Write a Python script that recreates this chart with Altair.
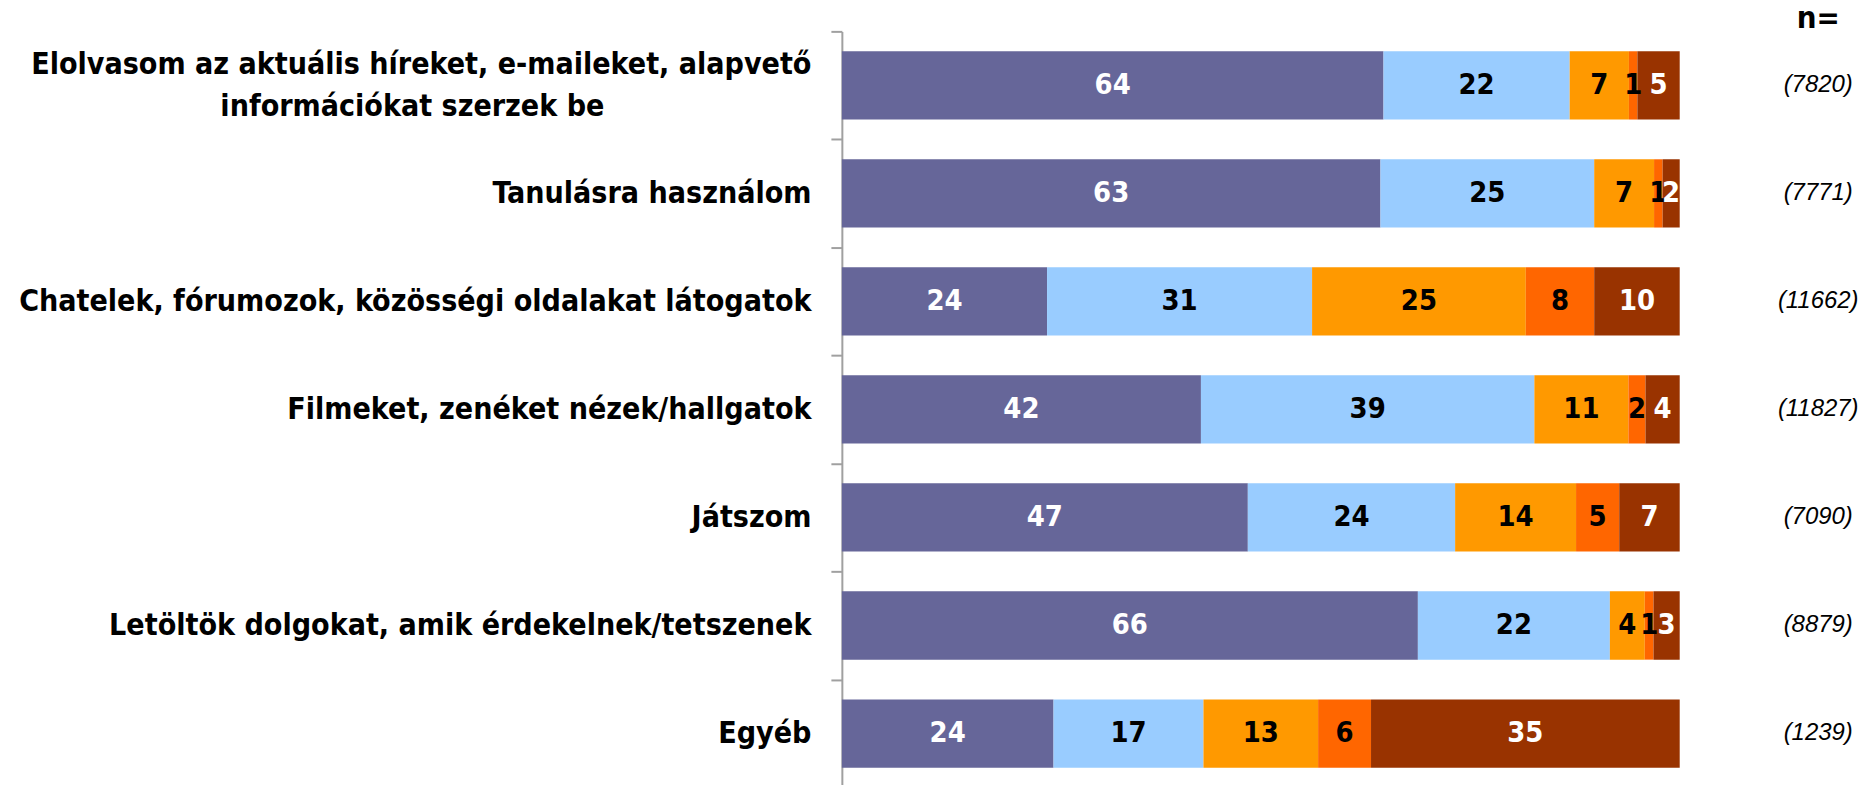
import altair as alt
import pandas as pd

categories = [
    "Elolvasom az aktuális híreket, e-maileket, alapvető|információkat szerzek be" + "\u00a0" * 22 + "\u200b",
    "Tanulásra használom",
    "Chatelek, fórumozok, közösségi oldalakat látogatok",
    "Filmeket, zenéket nézek/hallgatok",
    "Játszom",
    "Letöltök dolgokat, amik érdekelnek/tetszenek",
    "Egyéb",
]
series = ["s1", "s2", "s3", "s4", "s5"]
s1 = [64, 63, 24, 42, 47, 66, 24]
s2 = [22, 25, 31, 39, 24, 22, 17]
s3 = [7, 7, 25, 11, 14, 4, 13]
s4 = [1, 1, 8, 2, 5, 1, 6]
s5 = [5, 2, 10, 4, 7, 3, 35]
n_labels = ["(7820)", "(7771)", "(11662)", "(11827)", "(7090)", "(8879)", "(1239)"]

colors = ["#666699", "#99CCFF", "#FF9900", "#FF6600", "#993300"]
text_colors = ["#FFFFFF", "#000000", "#000000", "#000000", "#FFFFFF"]

FONT = "DejaVu Sans Condensed, DejaVu Sans"

rows = []
for si, (name, vals) in enumerate(zip(series, [s1, s2, s3, s4, s5])):
    for ci, cat in enumerate(categories):
        rows.append({"cat": cat, "series": name, "order": si, "value": vals[ci]})
df = pd.DataFrame(rows)
ndf = pd.DataFrame({"cat": categories, "n": n_labels})

y_enc = alt.Y(
    "cat:N",
    sort=categories,
    scale=alt.Scale(paddingInner=0, paddingOuter=0),
    axis=alt.Axis(
        title=None,
        labelExpr="isValid(datum.value) ? split(datum.value, '|') : ''",
        labelOffset={
            "condition": {"test": "isValid(datum.value) && indexof(datum.value, '|') >= 0", "value": -21},
            "value": 0,
        },
        labelLimit=1200,
        labelFont=FONT,
        labelFontSize=30.2,
        labelFontWeight="bold",
        labelColor="#000000",
        labelLineHeight=42,
        labelPadding=20,
        tickSize=11,
        tickWidth=2,
        tickColor="#A0A0A0",
        domainColor="#A0A0A0",
        domainWidth=2,
        tickBand="extent",
        grid=False,
    ),
)

base = alt.Chart(df).transform_stack(
    stack="value",
    groupby=["cat"],
    offset="normalize",
    sort=[alt.SortField("order", order="ascending")],
    as_=["x0", "x1"],
).transform_calculate(mid="(datum.x0 + datum.x1) / 2")

bars = base.mark_bar(height={"band": 0.632}).encode(
    y=y_enc,
    x=alt.X("x0:Q", axis=None, scale=alt.Scale(domain=[0, 1], nice=False, zero=True)),
    x2="x1:Q",
    color=alt.Color("series:N", scale=alt.Scale(domain=series, range=colors), legend=None),
)

labels = base.mark_text(font=FONT, fontSize=29, fontWeight="bold", baseline="middle", align="center").encode(
    y=alt.Y("cat:N", sort=categories),
    x=alt.X("mid:Q"),
    text="value:Q",
    color=alt.Color("series:N", scale=alt.Scale(domain=series, range=text_colors), legend=None),
)

ntext = alt.Chart(ndf).mark_text(
    font="Liberation Sans", fontSize=24, fontStyle="italic", align="center", baseline="middle", color="#000000"
).encode(
    y=alt.Y("cat:N", sort=categories),
    x=alt.value(980),
    text="n:N",
)

nhead = alt.Chart(pd.DataFrame({"t": ["n="]})).mark_text(
    font=FONT, fontSize=31, fontWeight="bold", align="center", baseline="middle", color="#000000"
).encode(
    x=alt.value(980),
    y=alt.value(-12),
    text="t:N",
)

chart = (
    alt.layer(bars, labels, ntext, nhead)
    .resolve_scale(color="independent")
    .properties(
        width=841,
        height=759,
        autosize=alt.AutoSizeParams(type="none"),
        padding={"left": 837, "top": 22, "right": 188, "bottom": 0},
    )
    .configure_view(stroke=None)
)

chart.save("out.html", embed_options={"renderer": "svg", "actions": False})
